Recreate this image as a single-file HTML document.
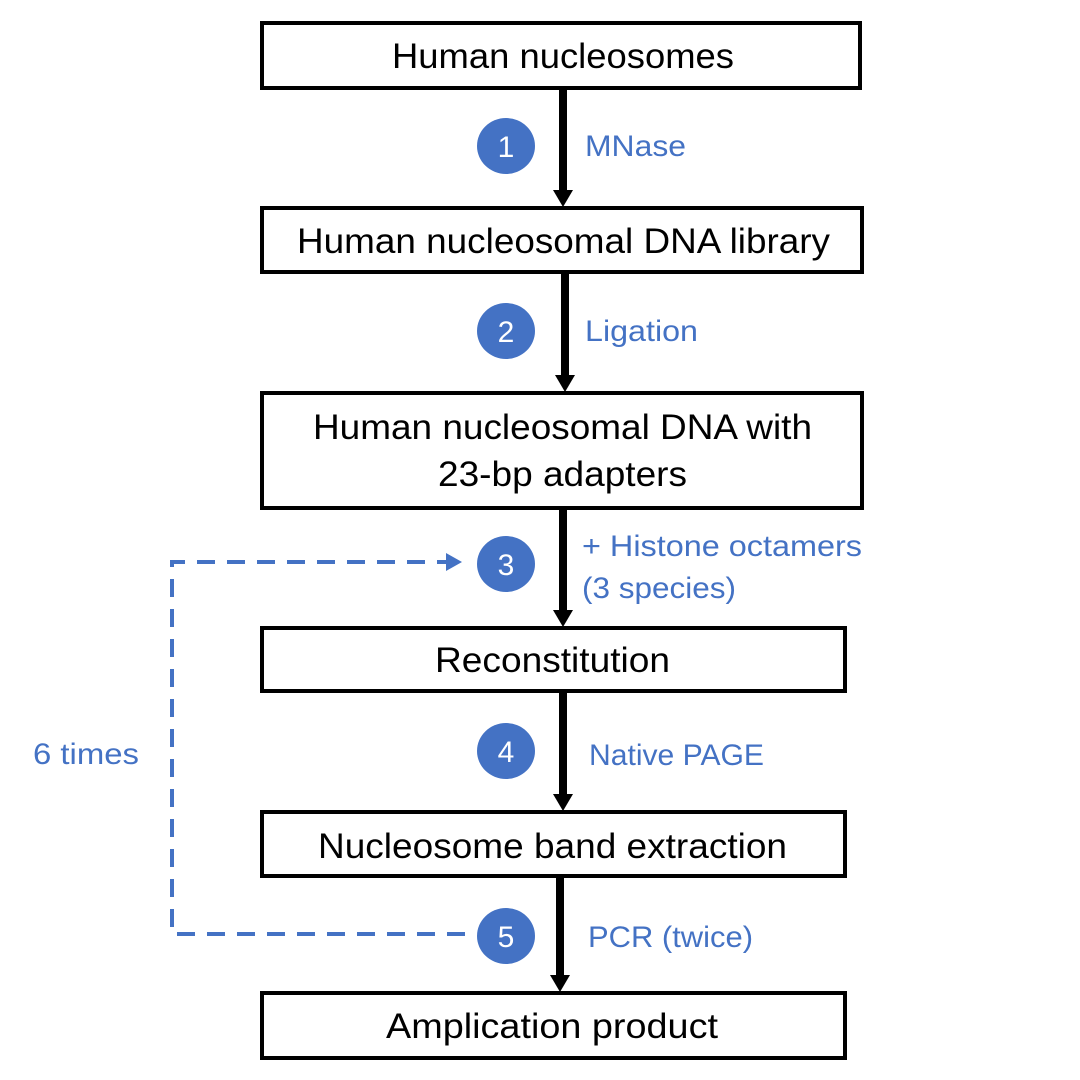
<!DOCTYPE html>
<html><head><meta charset="utf-8"><style>
html,body{margin:0;padding:0;background:#fff;}
svg{display:block;}
.b{font-family:"Liberation Sans",sans-serif;font-size:35px;fill:#000;}
.l{font-family:"Liberation Sans",sans-serif;font-size:30px;fill:#4472C4;}
.n{font-family:"Liberation Sans",sans-serif;font-size:30px;fill:#fff;}
</style></head><body>
<svg width="1080" height="1080" viewBox="0 0 1080 1080" xmlns="http://www.w3.org/2000/svg">
<g fill="#fff" stroke="#000" stroke-width="4">
<rect x="262" y="23" width="598" height="65"/>
<rect x="262" y="208" width="600" height="64"/>
<rect x="262" y="393" width="600" height="115"/>
<rect x="262" y="628" width="583" height="63"/>
<rect x="262" y="812" width="583" height="64"/>
<rect x="262" y="993" width="583" height="65"/>
</g>
<g stroke="#000" stroke-width="8" fill="none">
<line x1="563" y1="90" x2="563" y2="192"/>
<line x1="565" y1="274" x2="565" y2="377"/>
<line x1="563" y1="510" x2="563" y2="612"/>
<line x1="563" y1="693" x2="563" y2="796"/>
<line x1="560" y1="878" x2="560" y2="977"/>
</g>
<g fill="#000">
<path d="M553,190 L573,190 L563,207 z"/>
<path d="M555,375 L575,375 L565,392 z"/>
<path d="M553,610 L573,610 L563,627 z"/>
<path d="M553,794 L573,794 L563,811 z"/>
<path d="M550,975 L570,975 L560,992 z"/>
</g>
<g fill="none" stroke="#4472C4" stroke-width="4" stroke-dasharray="18,12">
<polyline points="455,562 172,562 172,934 465,934"/>
</g>
<path d="M446,553 L462,562 L446,571 z" fill="#4472C4"/>
<g fill="#4472C4">
<ellipse cx="506" cy="146" rx="29" ry="28"/>
<ellipse cx="506" cy="331" rx="29" ry="28"/>
<ellipse cx="506" cy="564" rx="29" ry="28"/>
<ellipse cx="506" cy="751" rx="29" ry="28"/>
<ellipse cx="506" cy="936" rx="29" ry="28"/>
</g>
<g class="n" text-anchor="middle">
<text x="506" y="157">1</text>
<text x="506" y="342">2</text>
<text x="506" y="575">3</text>
<text x="506" y="762">4</text>
<text x="506" y="947">5</text>
</g>
<g class="b" lengthAdjust="spacingAndGlyphs">
<text x="392" y="68" textLength="342" lengthAdjust="spacingAndGlyphs">Human nucleosomes</text>
<text x="297" y="253" textLength="533" lengthAdjust="spacingAndGlyphs">Human nucleosomal DNA library</text>
<text x="313" y="439" textLength="499" lengthAdjust="spacingAndGlyphs">Human nucleosomal DNA with</text>
<text x="438" y="486" textLength="249" lengthAdjust="spacingAndGlyphs">23-bp adapters</text>
<text x="435" y="672" textLength="235" lengthAdjust="spacingAndGlyphs">Reconstitution</text>
<text x="318" y="858" textLength="469" lengthAdjust="spacingAndGlyphs">Nucleosome band extraction</text>
<text x="386" y="1038" textLength="332" lengthAdjust="spacingAndGlyphs">Amplication product</text>
</g>
<g class="l">
<text x="585" y="156" textLength="101" lengthAdjust="spacingAndGlyphs">MNase</text>
<text x="585" y="341" textLength="113" lengthAdjust="spacingAndGlyphs">Ligation</text>
<text x="582" y="556" textLength="280" lengthAdjust="spacingAndGlyphs">+ Histone octamers</text>
<text x="582" y="598" textLength="154" lengthAdjust="spacingAndGlyphs">(3 species)</text>
<text x="589" y="765" textLength="175" lengthAdjust="spacingAndGlyphs">Native PAGE</text>
<text x="588" y="947" textLength="165" lengthAdjust="spacingAndGlyphs">PCR (twice)</text>
<text x="33" y="764" textLength="106" lengthAdjust="spacingAndGlyphs">6 times</text>
</g>
</svg>
</body></html>
